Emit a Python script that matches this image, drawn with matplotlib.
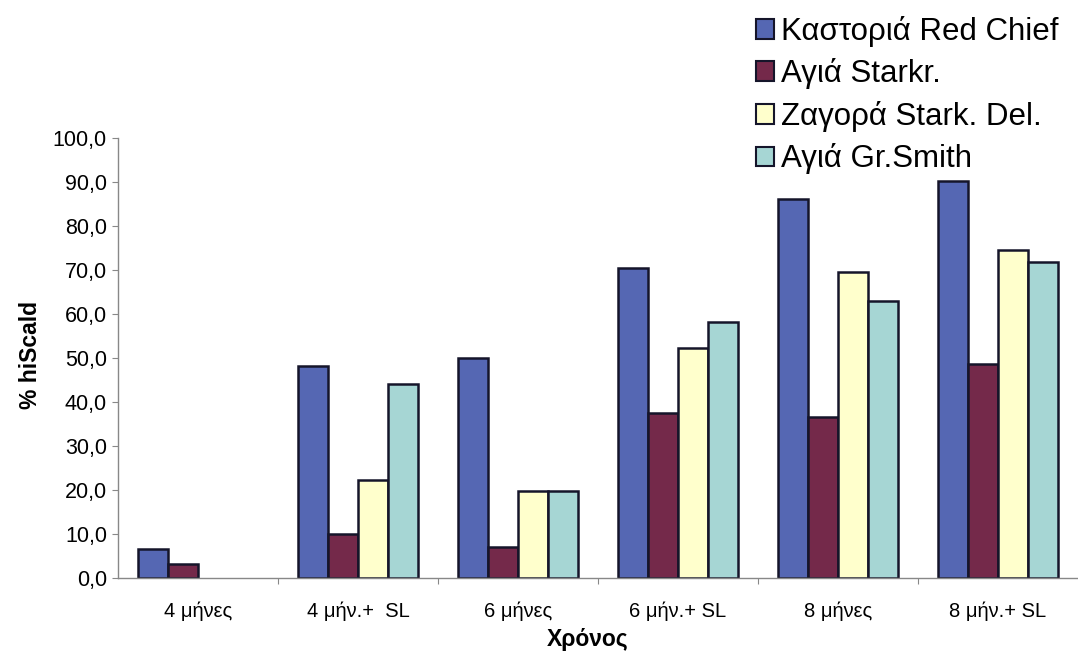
import numpy as np
import matplotlib
matplotlib.use('Agg')
import matplotlib.pyplot as plt
from matplotlib.patches import Patch

plt.rcParams['font.family'] = ['Liberation Sans', 'DejaVu Sans']

# storage period on the x axis
periods = ['4 μήνες', '4 μήν.+  SL', '6 μήνες', '6 μήν.+ SL', '8 μήνες', '8 μήν.+ SL']

# % hiScald per variety / origin (nan = no bar)
kastoria_red_chief = [6.6, 48.2, 50.0, 70.5, 86.1, 90.2]
agia_starkr = [3.2, 10.0, 7.0, 37.5, 36.6, 48.6]
zagora_stark_del = [np.nan, 22.3, 19.8, 52.3, 69.5, 74.5]
agia_gr_smith = [np.nan, 44.1, 19.8, 58.2, 63.0, 71.8]

series_names = ['Καστοριά Red Chief', 'Αγιά Starkr.', 'Ζαγορά Stark. Del.', 'Αγιά Gr.Smith']
series_values = [kastoria_red_chief, agia_starkr, zagora_stark_del, agia_gr_smith]
colors = ['#5567b3', '#74294a', '#ffffcc', '#a6d6d4']
edge = '#15152a'

fig = plt.figure(figsize=(10.78, 6.57), dpi=100)
ax = fig.add_axes([0.1095, 0.120, 0.8905, 0.670])

x = np.arange(len(periods))
w = 0.188
for i, (vals, c) in enumerate(zip(series_values, colors)):
    ax.bar(x + (i - 1.5) * w, vals, width=w, color=c, edgecolor=edge, linewidth=1.8)

ax.set_xlim(-0.5, len(periods) - 0.5)
ax.set_ylim(0, 100)

yt = np.arange(0, 101, 10)
ax.set_yticks(yt, [f'{v:.1f}'.replace('.', ',') for v in yt])
ax.set_xticks(x, periods)
ax.set_xticks(x[:-1] + 0.5, minor=True)
ax.tick_params(axis='y', direction='out', length=4, width=0.8, color='#888888',
               labelsize=15.5, pad=4)
ax.tick_params(axis='x', which='major', length=0, labelsize=14.5, pad=17)
ax.tick_params(axis='x', which='minor', direction='out', length=4, width=0.8,
               color='#888888')

for s in ['top', 'right']:
    ax.spines[s].set_visible(False)
for s in ['left', 'bottom']:
    ax.spines[s].set_color('#888888')
    ax.spines[s].set_linewidth(1.0)

fig.text(0.028, 0.46, '% hiScald', rotation=90, ha='center', va='center',
         fontsize=16.5, fontweight='bold')
fig.text(0.545, 0.026, 'Χρόνος', ha='center', va='center',
         fontsize=16.5, fontweight='bold')

handles = [Patch(facecolor=c, edgecolor=edge, linewidth=1.5) for c in colors]
fig.legend(handles, series_names, loc='upper left',
           bbox_to_anchor=(0.701, 0.976), frameon=False, fontsize=22.5,
           handlelength=0.6, handleheight=0.6, handletextpad=0.2,
           labelspacing=0.37, borderpad=0, borderaxespad=0)

fig.savefig('out.png', dpi=100)
